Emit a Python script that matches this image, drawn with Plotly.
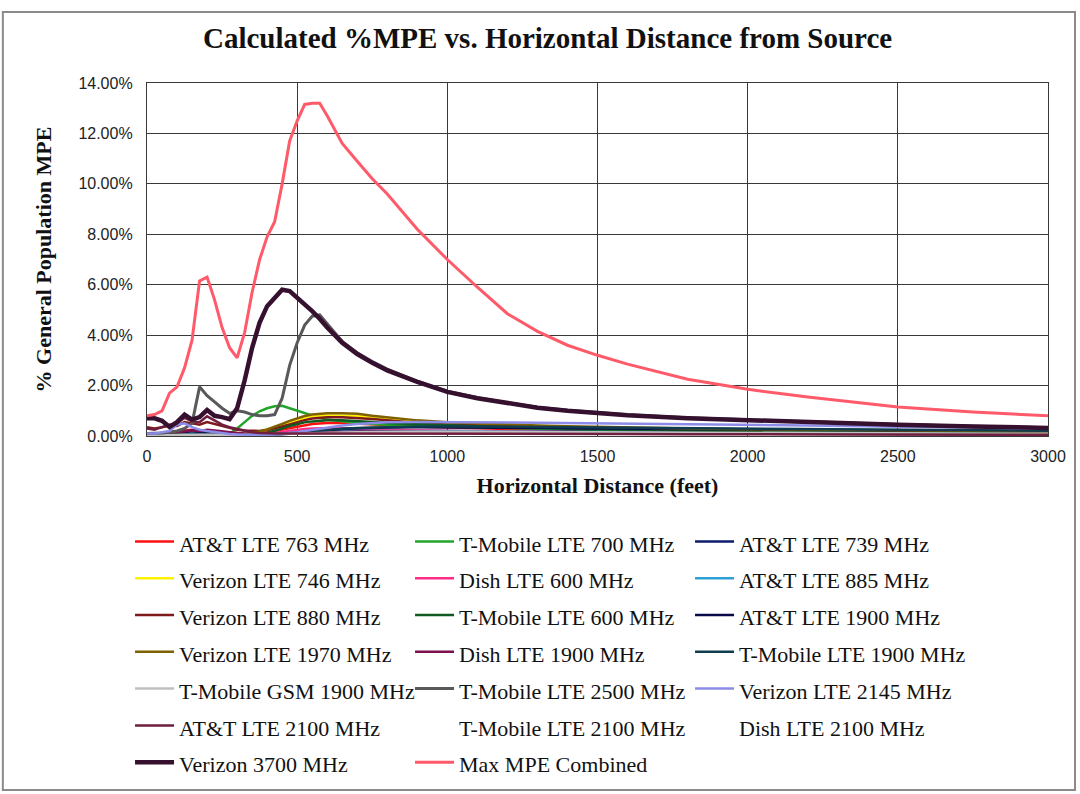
import plotly.graph_objects as go

# ---------------- data (values in % of General Population MPE) ----------------
distance_ft = [0, 25, 50, 75, 100, 125, 150, 175, 200, 225, 250, 275, 300, 325, 350,
               375, 400, 425, 450, 475, 500, 525, 550, 575, 600, 650, 700, 750, 800,
               900, 1000, 1100, 1200, 1300, 1400, 1500, 1600, 1800, 2000, 2200, 2500,
               2750, 3000]

att_lte_763 = [0.10, 0.10, 0.12, 0.15, 0.18, 0.22, 0.25, 0.22, 0.20, 0.18, 0.15, 0.12, 0.10, 0.10, 0.10,
               0.12, 0.15, 0.20, 0.26, 0.32, 0.38, 0.44, 0.48, 0.50, 0.52, 0.52, 0.50, 0.47, 0.44,
               0.38, 0.34, 0.31, 0.28, 0.26, 0.24, 0.22, 0.21, 0.19, 0.17, 0.16, 0.14, 0.13, 0.12]
tmobile_lte_700 = [0.02, 0.02, 0.02, 0.02, 0.02, 0.02, 0.02, 0.02, 0.02, 0.02, 0.02, 0.10, 0.30, 0.55, 0.80,
                   0.98, 1.10, 1.18, 1.20, 1.10, 1.00, 0.90, 0.80, 0.72, 0.65, 0.58, 0.52, 0.48, 0.45,
                   0.40, 0.37, 0.34, 0.31, 0.28, 0.26, 0.24, 0.22, 0.19, 0.17, 0.15, 0.13, 0.11, 0.10]
att_lte_739 = [0.05, 0.05, 0.06, 0.08, 0.12, 0.18, 0.22, 0.18, 0.12, 0.08, 0.06, 0.05, 0.05, 0.05, 0.05,
               0.05, 0.06, 0.07, 0.09, 0.11, 0.13, 0.15, 0.17, 0.19, 0.20, 0.21, 0.22, 0.22, 0.22,
               0.21, 0.20, 0.19, 0.18, 0.17, 0.16, 0.15, 0.14, 0.13, 0.12, 0.11, 0.10, 0.09, 0.08]
verizon_lte_746 = [0.05, 0.05, 0.06, 0.08, 0.10, 0.12, 0.14, 0.12, 0.10, 0.08, 0.07, 0.06, 0.06, 0.08, 0.12,
                   0.18, 0.25, 0.35, 0.45, 0.55, 0.64, 0.72, 0.78, 0.80, 0.81, 0.80, 0.78, 0.72, 0.66,
                   0.56, 0.50, 0.45, 0.41, 0.38, 0.35, 0.33, 0.31, 0.27, 0.25, 0.23, 0.20, 0.18, 0.17]
dish_lte_600 = [0.05, 0.05, 0.05, 0.06, 0.07, 0.08, 0.08, 0.07, 0.06, 0.05, 0.05, 0.05, 0.05, 0.05, 0.05,
                0.06, 0.08, 0.12, 0.17, 0.21, 0.25, 0.28, 0.30, 0.31, 0.31, 0.30, 0.28, 0.27, 0.25,
                0.22, 0.20, 0.18, 0.17, 0.16, 0.15, 0.14, 0.13, 0.12, 0.11, 0.10, 0.09, 0.08, 0.07]
att_lte_885 = [0.04, 0.04, 0.05, 0.07, 0.10, 0.15, 0.18, 0.15, 0.10, 0.07, 0.05, 0.04, 0.04, 0.04, 0.04,
               0.05, 0.06, 0.08, 0.10, 0.12, 0.14, 0.16, 0.18, 0.19, 0.20, 0.21, 0.21, 0.21, 0.21,
               0.20, 0.19, 0.18, 0.17, 0.16, 0.15, 0.14, 0.13, 0.12, 0.11, 0.10, 0.09, 0.08, 0.08]
verizon_lte_880 = [0.35, 0.30, 0.35, 0.42, 0.40, 0.55, 0.50, 0.45, 0.55, 0.48, 0.40, 0.32, 0.25, 0.22, 0.20,
                   0.20, 0.24, 0.30, 0.38, 0.46, 0.55, 0.63, 0.69, 0.72, 0.74, 0.74, 0.72, 0.67, 0.62,
                   0.52, 0.46, 0.42, 0.38, 0.35, 0.32, 0.30, 0.28, 0.25, 0.22, 0.21, 0.18, 0.17, 0.15]
tmobile_lte_600 = [0.05, 0.05, 0.05, 0.05, 0.05, 0.05, 0.05, 0.05, 0.05, 0.05, 0.05, 0.05, 0.05, 0.05, 0.05,
                   0.07, 0.12, 0.20, 0.30, 0.40, 0.48, 0.54, 0.58, 0.61, 0.62, 0.62, 0.60, 0.56, 0.52,
                   0.47, 0.43, 0.39, 0.36, 0.33, 0.30, 0.28, 0.26, 0.22, 0.19, 0.17, 0.14, 0.12, 0.11]
att_lte_1900 = [0.03, 0.03, 0.04, 0.06, 0.10, 0.16, 0.20, 0.16, 0.10, 0.06, 0.04, 0.03, 0.03, 0.03, 0.03,
                0.03, 0.04, 0.05, 0.07, 0.09, 0.12, 0.15, 0.18, 0.21, 0.24, 0.28, 0.31, 0.33, 0.34,
                0.35, 0.35, 0.34, 0.33, 0.32, 0.31, 0.30, 0.29, 0.27, 0.25, 0.24, 0.22, 0.20, 0.19]
verizon_lte_1970 = [0.03, 0.03, 0.03, 0.04, 0.05, 0.06, 0.07, 0.07, 0.06, 0.05, 0.05, 0.05, 0.06, 0.08, 0.12,
                    0.18, 0.26, 0.36, 0.48, 0.60, 0.70, 0.79, 0.85, 0.88, 0.90, 0.90, 0.88, 0.80, 0.74,
                    0.62, 0.55, 0.50, 0.46, 0.42, 0.39, 0.36, 0.34, 0.30, 0.27, 0.25, 0.22, 0.20, 0.18]
dish_lte_1900 = [0.08, 0.08, 0.10, 0.12, 0.15, 0.20, 0.22, 0.20, 0.25, 0.22, 0.18, 0.15, 0.12, 0.10, 0.08,
                 0.07, 0.07, 0.08, 0.09, 0.10, 0.12, 0.14, 0.15, 0.16, 0.17, 0.18, 0.18, 0.18, 0.18,
                 0.17, 0.16, 0.15, 0.14, 0.13, 0.12, 0.11, 0.11, 0.10, 0.09, 0.08, 0.07, 0.06, 0.06]
tmobile_lte_1900 = [0.03, 0.03, 0.03, 0.04, 0.05, 0.07, 0.08, 0.10, 0.09, 0.07, 0.05, 0.04, 0.04, 0.04, 0.04,
                    0.04, 0.05, 0.06, 0.08, 0.10, 0.13, 0.16, 0.19, 0.22, 0.25, 0.29, 0.32, 0.34, 0.36,
                    0.38, 0.38, 0.37, 0.36, 0.35, 0.34, 0.33, 0.32, 0.30, 0.28, 0.26, 0.24, 0.22, 0.21]
tmobile_gsm_1900 = [0.02, 0.02, 0.03, 0.03, 0.04, 0.05, 0.06, 0.06, 0.05, 0.05, 0.04, 0.04, 0.04, 0.04, 0.05,
                    0.05, 0.06, 0.06, 0.07, 0.08, 0.09, 0.10, 0.11, 0.12, 0.13, 0.14, 0.15, 0.16, 0.16,
                    0.17, 0.17, 0.17, 0.16, 0.16, 0.15, 0.15, 0.14, 0.13, 0.12, 0.11, 0.10, 0.09, 0.09]
tmobile_lte_2500 = [0.10, 0.10, 0.12, 0.15, 0.20, 0.30, 0.50, 1.95, 1.60, 1.35, 1.10, 0.90, 1.00, 0.95, 0.85,
                    0.80, 0.80, 0.85, 1.50, 2.80, 3.70, 4.40, 4.75, 4.80, 4.45, 3.75, 3.30, 2.95, 2.65,
                    2.17, 1.78, 1.52, 1.32, 1.14, 1.02, 0.92, 0.84, 0.72, 0.64, 0.56, 0.46, 0.39, 0.33]
verizon_lte_2145 = [0.10, 0.10, 0.15, 0.20, 0.45, 0.50, 0.35, 0.25, 0.20, 0.15, 0.10, 0.08, 0.06, 0.05, 0.05,
                    0.05, 0.05, 0.06, 0.08, 0.11, 0.15, 0.20, 0.25, 0.30, 0.35, 0.42, 0.48, 0.52, 0.55,
                    0.56, 0.56, 0.55, 0.54, 0.53, 0.52, 0.50, 0.49, 0.47, 0.44, 0.42, 0.37, 0.33, 0.30]
att_lte_2100 = [0.30, 0.25, 0.35, 0.45, 0.50, 0.72, 0.58, 0.55, 0.78, 0.62, 0.45, 0.35, 0.28, 0.20, 0.15,
                0.12, 0.10, 0.10, 0.10, 0.10, 0.10, 0.10, 0.10, 0.10, 0.10, 0.10, 0.10, 0.10, 0.10,
                0.10, 0.10, 0.10, 0.10, 0.09, 0.09, 0.08, 0.08, 0.07, 0.07, 0.06, 0.06, 0.05, 0.05]
tmobile_lte_2100 = [0.00, 0.00, 0.00, 0.00, 0.00, 0.00, 0.00, 0.00, 0.00, 0.00, 0.00, 0.00, 0.00, 0.00, 0.00,
                    0.00, 0.00, 0.00, 0.00, 0.00, 0.00, 0.00, 0.00, 0.00, 0.00, 0.00, 0.00, 0.00, 0.00,
                    0.00, 0.00, 0.00, 0.00, 0.00, 0.00, 0.00, 0.00, 0.00, 0.00, 0.00, 0.00, 0.00, 0.00]
dish_lte_2100 = [0.00, 0.00, 0.00, 0.00, 0.00, 0.00, 0.00, 0.00, 0.00, 0.00, 0.00, 0.00, 0.00, 0.00, 0.00,
                 0.00, 0.00, 0.00, 0.00, 0.00, 0.00, 0.00, 0.00, 0.00, 0.00, 0.00, 0.00, 0.00, 0.00,
                 0.00, 0.00, 0.00, 0.00, 0.00, 0.00, 0.00, 0.00, 0.00, 0.00, 0.00, 0.00, 0.00, 0.00]
verizon_3700 = [0.70, 0.70, 0.60, 0.36, 0.55, 0.85, 0.65, 0.75, 1.03, 0.80, 0.75, 0.67, 1.10, 2.20, 3.50,
                4.50, 5.15, 5.45, 5.80, 5.75, 5.50, 5.25, 4.95, 4.65, 4.30, 3.70, 3.25, 2.90, 2.60,
                2.15, 1.75, 1.50, 1.30, 1.12, 1.00, 0.90, 0.82, 0.70, 0.62, 0.55, 0.45, 0.38, 0.32]
max_mpe_combined = [0.80, 0.85, 1.00, 1.70, 1.95, 2.70, 3.80, 6.15, 6.30, 5.40, 4.30, 3.50, 3.10, 4.10, 5.70,
                    7.00, 7.90, 8.50, 10.00, 11.70, 12.50, 13.15, 13.20, 13.20, 12.70, 11.60, 10.90, 10.20, 9.60,
                    8.20, 7.00, 5.90, 4.85, 4.15, 3.60, 3.20, 2.85, 2.25, 1.85, 1.55, 1.15, 0.95, 0.80]

series_names = ["AT&T LTE 763 MHz", "T-Mobile LTE 700 MHz", "AT&T LTE 739 MHz",
                "Verizon LTE 746 MHz", "Dish LTE 600 MHz", "AT&T LTE 885 MHz",
                "Verizon LTE 880 MHz", "T-Mobile LTE 600 MHz", "AT&T LTE 1900 MHz",
                "Verizon LTE 1970 MHz", "Dish LTE 1900 MHz", "T-Mobile LTE 1900 MHz",
                "T-Mobile GSM 1900 MHz", "T-Mobile LTE 2500 MHz", "Verizon LTE 2145 MHz",
                "AT&T LTE 2100 MHz", "T-Mobile LTE 2100 MHz", "Dish LTE 2100 MHz",
                "Verizon 3700 MHz", "Max MPE Combined"]
series_values = [att_lte_763, tmobile_lte_700, att_lte_739,
                 verizon_lte_746, dish_lte_600, att_lte_885,
                 verizon_lte_880, tmobile_lte_600, att_lte_1900,
                 verizon_lte_1970, dish_lte_1900, tmobile_lte_1900,
                 tmobile_gsm_1900, tmobile_lte_2500, verizon_lte_2145,
                 att_lte_2100, tmobile_lte_2100, dish_lte_2100,
                 verizon_3700, max_mpe_combined]

y_tick_values = [0, 2, 4, 6, 8, 10, 12, 14]
y_tick_labels = ["0.00%", "2.00%", "4.00%", "6.00%", "8.00%", "10.00%", "12.00%", "14.00%"]
x_tick_values = [0, 500, 1000, 1500, 2000, 2500, 3000]
x_tick_labels = ["0", "500", "1000", "1500", "2000", "2500", "3000"]

# ---------------- styles ----------------
line_colors = {
    "AT&T LTE 763 MHz": "#FF1010", "T-Mobile LTE 700 MHz": "#22A52A", "AT&T LTE 739 MHz": "#0B1C6E",
    "Verizon LTE 746 MHz": "#FFF200", "Dish LTE 600 MHz": "#FF2D86", "AT&T LTE 885 MHz": "#2EA0D8",
    "Verizon LTE 880 MHz": "#7F1A1A", "T-Mobile LTE 600 MHz": "#115A22", "AT&T LTE 1900 MHz": "#0A0A4A",
    "Verizon LTE 1970 MHz": "#7F6000", "Dish LTE 1900 MHz": "#7B1150", "T-Mobile LTE 1900 MHz": "#103C50",
    "T-Mobile GSM 1900 MHz": "#C0C0C0", "T-Mobile LTE 2500 MHz": "#595959", "Verizon LTE 2145 MHz": "#8C8CE8",
    "AT&T LTE 2100 MHz": "#6E1F3F", "T-Mobile LTE 2100 MHz": "rgba(0,0,0,0)", "Dish LTE 2100 MHz": "rgba(0,0,0,0)",
    "Verizon 3700 MHz": "#35102F", "Max MPE Combined": "#FF5A6A",
}
line_widths = {"Verizon 3700 MHz": 4.5, "Max MPE Combined": 3, "T-Mobile LTE 2500 MHz": 3}
legend_text_size = 22

fig = go.Figure()
for name, vals in zip(series_names, series_values):
    fig.add_trace(go.Scatter(
        x=distance_ft, y=vals, mode="lines",
        name=f"<span style='font-size:{legend_text_size}px'>{name}</span>",
        line=dict(color=line_colors[name], width=line_widths.get(name, 2.5)),
    ))

serif = "Liberation Serif"
fig.update_layout(
    width=1080, height=794,
    paper_bgcolor="white", plot_bgcolor="white",
    margin=dict(l=147, r=32, t=83, b=358, autoexpand=False),
    title=dict(text="<b>Calculated %MPE vs. Horizontal Distance from Source</b>",
               x=0.507, xanchor="center", y=0.952, yanchor="middle",
               font=dict(family=serif, size=29, color="#111111")),
    showlegend=True,
    legend=dict(orientation="h", xref="container", yref="container",
                x=0.1204, xanchor="left", y=0.3476, yanchor="top",
                entrywidth=226, entrywidthmode="pixels", itemwidth=39,
                font=dict(family=serif, size=26, color="#111111"),
                bgcolor="rgba(0,0,0,0)"),
    xaxis=dict(range=[0, 3000], tickvals=x_tick_values, ticktext=x_tick_labels, showgrid=True,
               gridcolor="#3A3A3A", gridwidth=1.3, showline=True, linecolor="#3A3A3A",
               linewidth=1.3, mirror=True, zeroline=False, ticks="", ticklabelstandoff=6,
               tickfont=dict(family="Liberation Sans", size=16, color="#222222"),
               title=dict(text="<b>Horizontal Distance (feet)</b>", standoff=13,
                          font=dict(family=serif, size=22, color="#111111"))),
    yaxis=dict(range=[0, 14], tickvals=y_tick_values, ticktext=y_tick_labels,
               showgrid=True, gridcolor="#3A3A3A", gridwidth=1.3, showline=True,
               linecolor="#3A3A3A", linewidth=1.3, mirror=True, zeroline=False, ticks="",
               ticklabelstandoff=10,
               tickfont=dict(family="Liberation Sans", size=16, color="#222222"),
               title=dict(text="<b>% General Population MPE</b>", standoff=20,
                          font=dict(family=serif, size=22, color="#111111"))),
    shapes=[dict(type="rect", xref="paper", yref="paper",
                 x0=-0.16, x1=1.03, y0=-1.003, y1=1.201,
                 line=dict(color="#8A8A8A", width=2), fillcolor="rgba(0,0,0,0)", layer="below")],
)

fig.write_html("out.html", config={"displayModeBar": False},
               post_script="document.body.style.margin='0px';")
